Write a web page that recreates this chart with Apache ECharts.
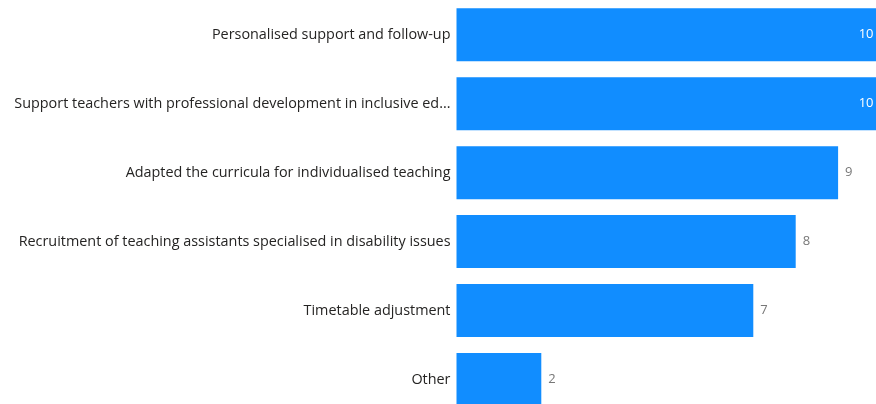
<!DOCTYPE html>
<html>
<head>
<meta charset="utf-8">
<script src="https://cdn.jsdelivr.net/npm/echarts@6/dist/echarts.min.js"></script>
<style>
  html, body { margin: 0; padding: 0; background: #fff; }
  #chart { width: 876px; height: 404px; }
</style>
</head>
<body>
<div id="chart"></div>
<script>
// Support measures offered, counted per measure
const categories = [
  'Personalised support and follow-up',
  'Support teachers with professional development in inclusive ed...',
  'Adapted the curricula for individualised teaching',
  'Recruitment of teaching assistants specialised in disability issues',
  'Timetable adjustment',
  'Other'
];
const counts = [10, 10, 9, 8, 7, 2];
const axisMax = 10;

const font = '"Open Sans", "Noto Sans", sans-serif';

const chart = echarts.init(document.getElementById('chart'), null, { renderer: 'canvas' });

chart.setOption({
  animation: false,
  // plot area runs slightly past the canvas edges on the right and bottom
  grid: {
    left: 456.5, top: 0.3, width: 424, height: 413.6,
    containLabel: false,
    outerBoundsMode: 'none'
  },
  xAxis: {
    type: 'value',
    min: 0,
    max: axisMax,
    show: false
  },
  yAxis: {
    type: 'category',
    data: categories,
    inverse: true,
    axisLine: { show: false },
    axisTick: { show: false },
    axisLabel: {
      margin: 6,
      color: '#252423',
      fontSize: 14.4,
      fontFamily: font,
      padding: [4, 0, 0, 0]
    }
  },
  series: [{
    type: 'bar',
    data: counts.map(v => ({
      value: v,
      label: v >= axisMax
        ? { position: 'insideRight', color: '#ffffff', distance: 7 }
        : { position: 'right', color: '#777777', distance: 7 }
    })),
    barWidth: 53,
    clip: false,
    itemStyle: { color: '#118DFF' },
    label: {
      show: true,
      fontSize: 13,
      fontFamily: font,
      padding: [2, 0, 0, 0]
    }
  }]
});
</script>
</body>
</html>
